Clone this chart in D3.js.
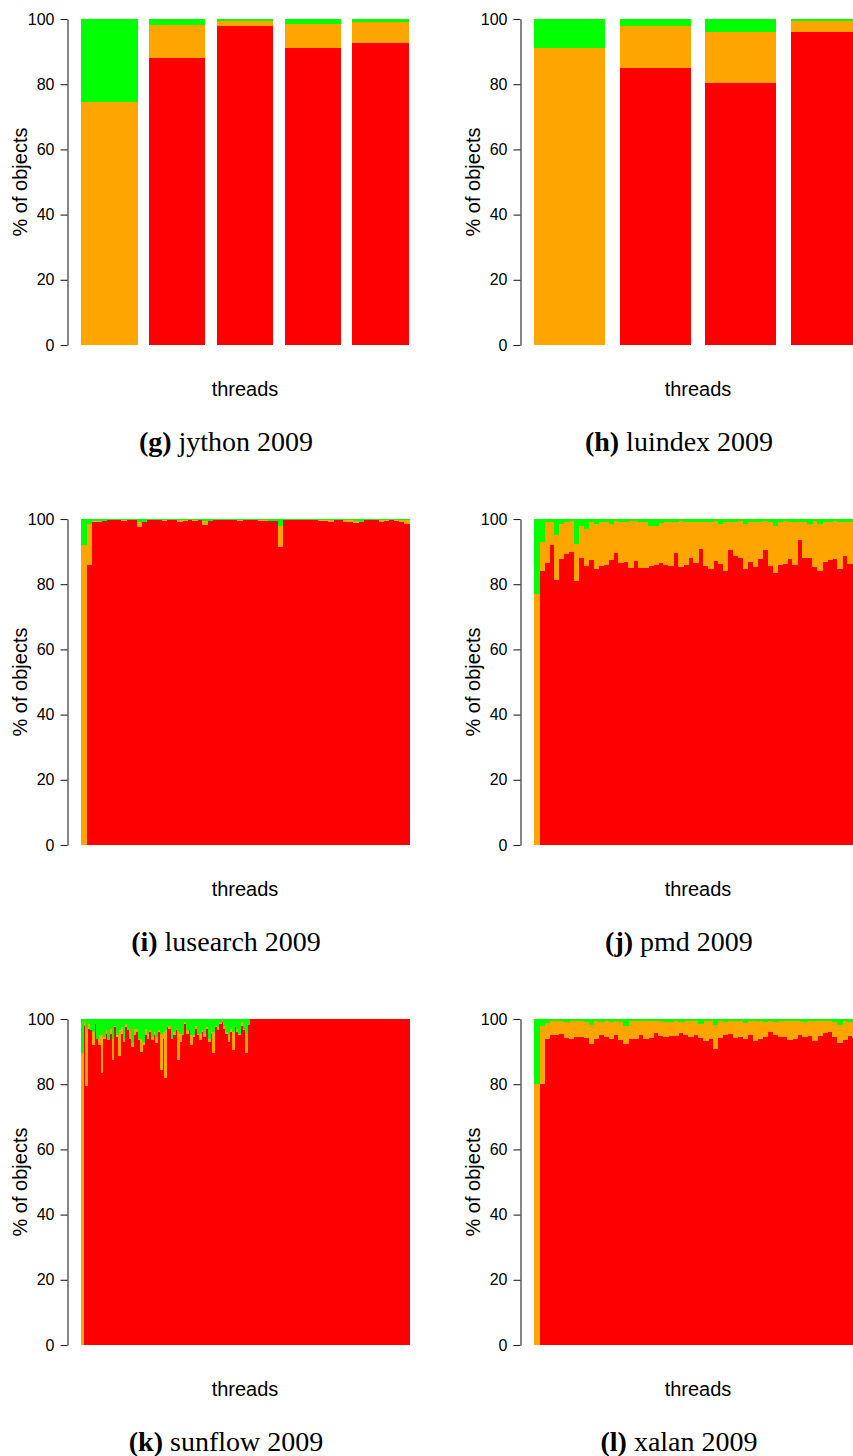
<!DOCTYPE html>
<html>
<head>
<meta charset="utf-8">
<style>
  body { margin: 0; background: #fff; }
  text { font-family: "Liberation Sans", Arial, sans-serif; fill: #000; }
  .caption { font-family: "Liberation Serif", "Times New Roman", serif; font-size: 28px; }
  .axis path, .axis line { stroke: #222; stroke-width: 1.1; }
  .bars { shape-rendering: crispEdges; }
</style>
<title>% of objects per thread</title>
</head>
<body>
<svg id="chart"></svg>
<script src="https://cdn.jsdelivr.net/npm/d3@7/dist/d3.min.js"></script>
<script>

// (g) jython 2009
var gRed    = [0, 88, 98, 91, 92.5];
var gOrange = [74.5, 10.3, 1.5, 7.4, 6.6];
var gGreen  = [25.5, 1.7, 0.5, 1.6, 0.9];

// (h) luindex 2009
var hRed    = [0, 85, 80.5, 96];
var hOrange = [91, 13, 15.5, 3.5];
var hGreen  = [9, 2, 4, 0.5];

// (i) lusearch 2009
var iRed = [0, 86, 99.1, 99.1, 99.4, 99.6, 99.6, 99.6, 99.4, 99.7,
  99.7, 97.6, 99.0, 99.7, 99.7, 99.7, 99.4, 99.7, 99.7, 99.0,
  99.5, 99.6, 99.4, 99.6, 98.2, 99.4, 99.7, 99.7, 99.7, 99.7,
  99.7, 99.4, 99.7, 99.7, 99.7, 99.4, 99.5, 99.5, 99.5, 91.5,
  99.7, 99.7, 99.7, 99.7, 99.7, 99.7, 99.7, 99.4, 99.4, 99.1,
  99.7, 99.7, 99.1, 99.1, 98.7, 99.2, 99.7, 99.7, 99.7, 99.2,
  99.4, 99.7, 99.4, 99.2, 98.4];
var iOrange = [92, 12.5, 0.4, 0.4, 0.1, 0, 0, 0, 0.3, 0,
  0, 1.4, 0, 0, 0, 0, 0.3, 0, 0, 0.7,
  0.2, 0, 0.3, 0, 1.2, 0, 0, 0, 0, 0,
  0, 0.3, 0, 0, 0, 0.3, 0.2, 0, 0, 6.4,
  0, 0, 0, 0, 0, 0, 0, 0.3, 0.3, 0.6,
  0, 0, 0.5, 0.5, 0.7, 0, 0, 0, 0, 0.4,
  0.3, 0, 0.3, 0.4, 1.3];
var iGreen = [8, 1.5, 0.5, 0.5, 0.5, 0.4, 0.4, 0.4, 0.3, 0.3,
  0.3, 1.0, 1.0, 0.3, 0.3, 0.3, 0.3, 0.3, 0.3, 0.3,
  0.3, 0.4, 0.3, 0.4, 0.6, 0.6, 0.3, 0.3, 0.3, 0.3,
  0.3, 0.3, 0.3, 0.3, 0.3, 0.3, 0.3, 0.5, 0.5, 2.1,
  0.3, 0.3, 0.3, 0.3, 0.3, 0.3, 0.3, 0.3, 0.3, 0.3,
  0.3, 0.3, 0.4, 0.4, 0.6, 0.8, 0.3, 0.3, 0.3, 0.4,
  0.3, 0.3, 0.3, 0.4, 0.3];

// (j) pmd 2009
var jRed = [0, 84, 86.5, 92, 81.3, 87.7, 89.3, 89.9, 81, 88,
  85.6, 87.4, 84.7, 85.6, 85.9, 87.4, 89.6, 86.5, 86.8, 85,
  87.1, 85, 85, 85.6, 85.9, 86.5, 85.9, 85.6, 89.6, 85.3,
  85.9, 88, 86.5, 90.8, 85.6, 84.7, 87.1, 86.2, 84, 90.5,
  88.7, 88, 84.7, 86.8, 85.3, 87.7, 90.5, 85.6, 83.4, 85.9,
  86.2, 87.7, 85.9, 93.6, 88, 88, 85.3, 84, 86.8, 87.4,
  87.7, 84.7, 88.7, 86.2, 88, 86.5];
var jOrange = [76.9, 8.9, 12.5, 7, 13.8, 10.8, 9.7, 9.5, 11.3, 9.9,
  11.3, 11.6, 13.8, 13.4, 13.1, 11.1, 9.8, 12.5, 12.2, 14.4,
  12.3, 14, 14, 12.3, 12, 12.3, 13.1, 13.4, 9.4, 14.1,
  13.1, 11, 12.7, 8.4, 13.4, 14.5, 12.3, 12.3, 15.2, 8.5,
  10.5, 11.4, 13.8, 12.4, 13.7, 11.5, 8.9, 13.4, 14.5, 13.3,
  13.2, 11.3, 13.3, 5.4, 11.2, 10.5, 14.1, 14.5, 12.2, 11.8,
  11.7, 14.3, 10.5, 12.8, 11.2, 12.5];
var jGreen = [23.1, 7.1, 1.0, 1.0, 4.9, 1.5, 1.0, 0.6, 7.7, 2.1,
  3.1, 1.0, 1.5, 1.0, 1.0, 1.5, 0.6, 1.0, 1.0, 0.6,
  0.6, 1.0, 1.0, 2.1, 2.1, 1.2, 1.0, 1.0, 1.0, 0.6,
  1.0, 1.0, 0.8, 0.8, 1.0, 0.8, 0.6, 1.5, 0.8, 1.0,
  0.8, 0.6, 1.5, 0.8, 1.0, 0.8, 0.6, 1.0, 2.1, 0.8,
  0.6, 1.0, 0.8, 1.0, 0.8, 1.5, 0.6, 1.5, 1.0, 0.8,
  0.6, 1.0, 0.8, 1.0, 0.8, 1.0];

// (k) sunflow 2009
var kRed = [0, 98, 79.5, 97, 96.5, 92, 98.5, 94, 92, 83.5,
  94, 95.5, 93.5, 95.5, 87.5, 97.5, 94.5, 88.5, 95.5, 93,
  97.5, 96.5, 94, 91.5, 95, 96, 93.5, 90, 92, 95,
  94, 96, 93.5, 95, 92.5, 96, 84.5, 94, 82, 97.5,
  97, 94, 95, 96.5, 87.5, 93, 95, 98.5, 95.5, 96.5,
  92, 94.5, 97, 95, 93.5, 96, 94.5, 97, 93, 95.5,
  89.5, 97.5, 96.5, 98.5, 99, 97, 95.5, 93, 96, 90.5,
  97.5, 96, 95, 98, 96.5, 89.5, 98.2,
  100, 100, 100, 100, 100, 100, 100, 100, 100, 100,
  100, 100, 100, 100, 100, 100, 100, 100, 100, 100,
  100, 100, 100, 100, 100, 100, 100, 100, 100, 100,
  100, 100, 100, 100, 100, 100, 100, 100, 100, 100,
  100, 100, 100, 100, 100, 100, 100, 100, 100, 100,
  100, 100, 100, 100, 100, 100, 100, 100, 100, 100,
  100, 100, 100, 100, 100, 100, 100, 100, 100, 100,
  100, 100, 100];
var kOrange = [89.5, 1.5, 17.5, 1.5, 0, 4, 0.5, 0, 3, 11.5,
  0.5, 1, 0, 1.5, 6.5, 0.5, 0.5, 8, 2, 1,
  1, 0, 3, 1, 2, 1, 0.5, 4, 1, 2,
  1.5, 0.5, 1, 1, 2, 0.5, 11, 2, 14.5, 0.5,
  1, 0, 1, 0.5, 8.5, 2.5, 0, 0.5, 1, 0,
  3, 0.5, 1, 0.5, 2, 0.5, 1, 0.5, 1, 2,
  6.5, 0.5, 1, 0.5, 0.5, 1, 0.5, 2, 1, 5.5,
  0.5, 1, 0.5, 1, 0.5, 6, 0,
  0, 0, 0, 0, 0, 0, 0, 0, 0, 0,
  0, 0, 0, 0, 0, 0, 0, 0, 0, 0,
  0, 0, 0, 0, 0, 0, 0, 0, 0, 0,
  0, 0, 0, 0, 0, 0, 0, 0, 0, 0,
  0, 0, 0, 0, 0, 0, 0, 0, 0, 0,
  0, 0, 0, 0, 0, 0, 0, 0, 0, 0,
  0, 0, 0, 0, 0, 0, 0, 0, 0, 0,
  0, 0, 0];
var kGreen = [10.5, 0.5, 3, 1.5, 3.5, 4, 1, 6, 5, 5,
  5.5, 3.5, 6.5, 3, 6, 2, 5, 3.5, 2.5, 6,
  1.5, 3.5, 3, 7.5, 3, 3, 6, 6, 7, 3,
  4.5, 3.5, 5.5, 4, 5.5, 3.5, 4.5, 4, 3.5, 2,
  2, 6, 4, 3, 4, 4.5, 5, 1, 3.5, 3.5,
  5, 5, 2, 4.5, 4.5, 3.5, 4.5, 2.5, 6, 2.5,
  4, 2, 2.5, 1, 0.5, 2, 4, 5, 3, 4,
  2, 3, 4.5, 1, 3, 4.5, 1.8,
  0, 0, 0, 0, 0, 0, 0, 0, 0, 0,
  0, 0, 0, 0, 0, 0, 0, 0, 0, 0,
  0, 0, 0, 0, 0, 0, 0, 0, 0, 0,
  0, 0, 0, 0, 0, 0, 0, 0, 0, 0,
  0, 0, 0, 0, 0, 0, 0, 0, 0, 0,
  0, 0, 0, 0, 0, 0, 0, 0, 0, 0,
  0, 0, 0, 0, 0, 0, 0, 0, 0, 0,
  0, 0, 0];

// (l) xalan 2009
var lRed = [0, 80.1, 93.9, 95.1, 95.1, 95.4, 94.2, 93.9, 94.5, 94.5,
  94.2, 92.3, 93.9, 95.1, 94.5, 93.9, 95.1, 93.6, 92.3, 93.9,
  93.9, 95.1, 93.9, 94.2, 95.7, 94.8, 94.5, 94.8, 94.8, 95.7,
  95.1, 94.5, 95.1, 94.2, 93.3, 93.9, 90.8, 94.2, 95.1, 95.4,
  94.2, 94.5, 93.9, 95.1, 93.3, 93.9, 94.5, 96.0, 95.1, 94.5,
  94.5, 93.6, 93.9, 95.1, 94.5, 94.8, 93.3, 94.8, 95.7, 96.0,
  94.5, 92.6, 93.6, 94.8, 94.2, 94.5];
var lOrange = [80.1, 17.8, 4.9, 4.3, 4.3, 4.0, 4.9, 5.5, 4.9, 4.9,
  4.9, 5.9, 5.5, 4.0, 4.9, 5.2, 4.3, 5.5, 5.7, 5.5,
  5.5, 4.3, 5.5, 5.2, 3.7, 4.6, 4.6, 4.3, 4.6, 3.4,
  4.3, 4.9, 4.3, 4.3, 6.1, 5.5, 7.4, 5.2, 4.0, 4.0,
  5.2, 4.9, 4.9, 4.3, 6.1, 5.5, 4.6, 3.4, 4.0, 4.9,
  4.9, 5.8, 5.5, 4.3, 4.6, 4.6, 6.1, 4.6, 3.7, 3.4,
  4.6, 5.6, 5.8, 4.3, 5.2, 4.9];
var lGreen = [19.9, 2.1, 1.2, 0.6, 0.6, 0.6, 0.9, 0.6, 0.6, 0.6,
  0.9, 1.8, 0.6, 0.9, 0.6, 0.9, 0.6, 0.9, 2.0, 0.6,
  0.6, 0.6, 0.6, 0.6, 0.6, 0.6, 0.9, 0.9, 0.6, 0.9,
  0.6, 0.6, 0.6, 1.5, 0.6, 0.6, 1.8, 0.6, 0.9, 0.6,
  0.6, 0.6, 1.2, 0.6, 0.6, 0.6, 0.9, 0.6, 0.9, 0.6,
  0.6, 0.6, 0.6, 0.6, 0.9, 0.6, 0.6, 0.6, 0.6, 0.6,
  0.9, 1.8, 0.6, 0.9, 0.6, 0.6];

var yTicks = [0, 20, 40, 60, 80, 100];
var colors = {red: "#ff0000", orange: "#ffa500", green: "#00ff00"};

var panels = [
  {tag: "(g)", name: "jython 2009",   red: gRed, orange: gOrange, green: gGreen, space: 0.2},
  {tag: "(h)", name: "luindex 2009",  red: hRed, orange: hOrange, green: hGreen, space: 0.2},
  {tag: "(i)", name: "lusearch 2009", red: iRed, orange: iOrange, green: iGreen, space: 0},
  {tag: "(j)", name: "pmd 2009",      red: jRed, orange: jOrange, green: jGreen, space: 0},
  {tag: "(k)", name: "sunflow 2009",  red: kRed, orange: kOrange, green: kGreen, space: 0},
  {tag: "(l)", name: "xalan 2009",    red: lRed, orange: lOrange, green: lGreen, space: 0}
];

var svg = d3.select("#chart").attr("width", 853).attr("height", 1456);

panels.forEach(function(p, idx) {
  var col = idx % 2, row = Math.floor(idx / 2);
  var g = svg.append("g").attr("transform", `translate(${col * 453},${row * 500})`);
  var n = p.red.length;

  var x = d3.scaleBand()
    .domain(d3.range(n))
    .range([81, 409])
    .paddingInner(p.space / (1 + p.space))
    .paddingOuter(0);
  var y = d3.scaleLinear().domain([0, 100]).range([345, 19]);

  var table = d3.range(n).map(i => ({red: p.red[i], orange: p.orange[i], green: p.green[i]}));
  var series = d3.stack().keys(["red", "orange", "green"])(table);
  // adjacent bars: small overlap so no hairline seams show
  var extra = p.space == 0 ? 0.6 : 0;

  g.append("g").attr("class", "bars").selectAll("g")
    .data(series)
    .join("g")
      .attr("fill", d => colors[d.key])
    .selectAll("rect")
    .data(d => d)
    .join("rect")
      .attr("x", (d, i) => x(i))
      .attr("width", x.bandwidth() + extra)
      .attr("y", d => y(d[1]))
      .attr("height", d => Math.max(0, y(d[0]) - y(d[1])));

  g.append("g")
    .attr("class", "axis")
    .attr("transform", "translate(67.5,0)")
    .call(d3.axisLeft(y).tickValues(yTicks).tickSize(7).tickSizeOuter(0).tickPadding(6))
    .call(a => a.selectAll("text").style("font-size", "16px").style("font-family", '"Liberation Sans", Arial, sans-serif'));

  g.append("text")
    .attr("transform", "translate(27,182) rotate(-90)")
    .attr("text-anchor", "middle")
    .style("font-size", "20px")
    .text("% of objects");

  g.append("text")
    .attr("x", 245)
    .attr("y", 396)
    .attr("text-anchor", "middle")
    .style("font-size", "20px")
    .text("threads");

  var cap = g.append("text")
    .attr("class", "caption")
    .attr("x", 226)
    .attr("y", 451)
    .attr("text-anchor", "middle");
  cap.append("tspan").style("font-weight", "bold").text(p.tag);
  cap.append("tspan").text(" " + p.name);
});
</script>
</body>
</html>
